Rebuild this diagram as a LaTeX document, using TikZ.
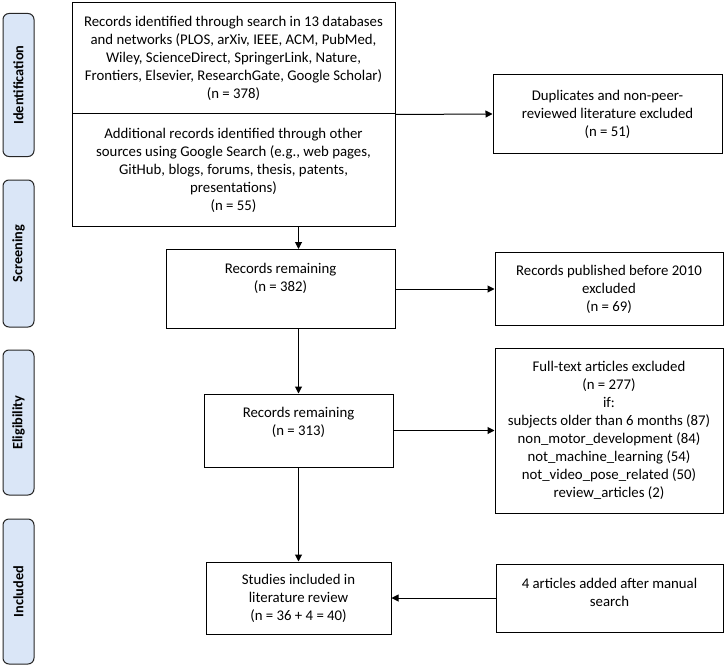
\documentclass[tikz,border=0pt]{standalone}
\usepackage{fontspec}
\setmainfont{Carlito}
\usetikzlibrary{arrows.meta}
\definecolor{phaseblue}{RGB}{218,230,247}
\tikzstyle{box}=[draw,line width=1pt,align=center,inner sep=2pt,font=\fontsize{14.8}{18}\selectfont]
\tikzstyle{phase}=[draw=black!85,fill=phaseblue,line width=1pt,rounded corners=6pt,rotate=90,minimum width=145pt,minimum height=31pt,inner sep=0pt,font=\fontsize{14.3}{17}\selectfont\bfseries]
\tikzstyle{arr}=[line width=1pt,-{Triangle[length=7pt,width=7pt]}]

\begin{document}
\begin{tikzpicture}[x=1pt,y=-1pt]
\useasboundingbox (0,0) rectangle (725,666);

\node[phase,minimum width=143pt] (pid) at (18.5, 85) {Identification};
\node[phase,minimum width=147pt] (pscr) at (18.5, 253.5) {Screening};
\node[phase] (pel) at (18.5, 422.5) {Eligibility};
\node[phase] (pinc) at (18.5, 591.5) {Included};

\node[box,minimum width=323pt,minimum height=111pt] (ida) at (233.5, 58.5) {Records identified through search in 13 databases\\and networks (PLOS, arXiv, IEEE, ACM, PubMed,\\Wiley, ScienceDirect, SpringerLink, Nature,\\Frontiers, Elsevier, ResearchGate, Google Scholar)\\(n = 378)};
\node[box,minimum width=323pt,minimum height=112pt] (idb) at (233.5, 170) {Additional records identified through other\\sources using Google Search (e.g., web pages,\\GitHub, blogs, forums, thesis, patents,\\presentations)\\(n = 55)};
\node[box,minimum width=229pt,minimum height=78pt] (dup) at (607.5, 114) {Duplicates and non-peer-\\reviewed literature excluded\\(n = 51)};

\node[box,minimum width=229pt,minimum height=79pt,text depth=23pt] (scr) at (280.5, 289) {Records remaining\\(n = 382)};
\node[box,minimum width=228pt,minimum height=73pt] (pub) at (609, 289) {Records published before 2010\\excluded\\(n = 69)};

\node[box,minimum width=189pt,minimum height=73pt,text depth=19pt] (elig) at (298.5, 430.5) {Records remaining\\(n = 313)};
\node[box,minimum width=228pt,minimum height=165pt] (full) at (609, 430.5) {Full-text articles excluded\\(n = 277)\\if:\\subjects older than 6 months (87)\\non\_motor\_development (84)\\not\_machine\_learning (54)\\not\_video\_pose\_related (50)\\review\_articles (2)};

\node[box,minimum width=185pt,minimum height=72pt] (incl) at (298.5, 598) {Studies included in\\literature review\\(n = 36 + 4 = 40)};
\node[box,minimum width=227pt,minimum height=68pt,text depth=12pt] (man) at (609.5, 598) {4 articles added after manual\\search};

\draw[arr] (ida.south east) -- (dup.west);
\draw[arr] (idb.south -| elig) -- (scr.north -| elig);
\draw[arr] (scr.east) -- (pub.west);
\draw[arr] (scr.south -| elig) -- (elig.north);
\draw[arr] (elig.east) -- (full.west);
\draw[arr] (elig.south) -- (incl.north);
\draw[arr] (man.west) -- (incl.east);

\end{tikzpicture}
\end{document}
